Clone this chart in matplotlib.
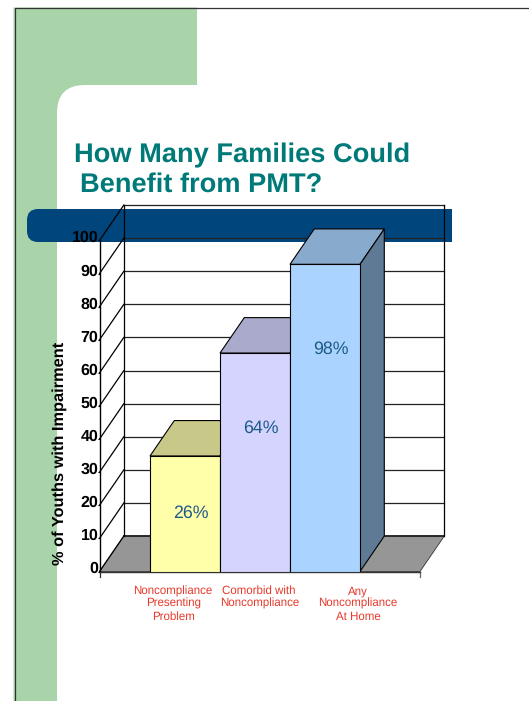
import matplotlib
matplotlib.use("Agg")
import matplotlib.pyplot as plt
from matplotlib.patches import PathPatch, Polygon
from matplotlib.path import Path
from matplotlib.transforms import ScaledTranslation

plt.rcParams['font.family'] = ['Liberation Sans', 'DejaVu Sans']
plt.rcParams['text.hinting'] = 'no_hinting'

# Data
categories = ["Noncompliance\nPresenting\nProblem", "Comorbid with\nNoncompliance", "Any\nNoncompliance\nAt Home"]
bar_heights = [34.9, 66.0, 92.8]
bar_labels = ["26%", "64%", "98%"]
y_ticks = [0, 10, 20, 30, 40, 50, 60, 70, 80, 90, 100]

face_colors = ["#FFFFAA", "#D4D4FF", "#AAD4FF"]
top_colors = ["#C8C888", "#AAAACC", "#88AACC"]
side_colors = ["#A0A070", "#8888AA", "#5F7A95"]

W, H = 529, 701
fig = plt.figure(figsize=(W/100, H/100), dpi=100, facecolor="white")

# Slide background, in pixel coordinates
bg = fig.add_axes([0, 0, 1, 1])
bg.set_xlim(0, W)
bg.set_ylim(H, 0)
bg.axis("off")

green = "#A9D4AA"
verts = [(13.5, 7.5), (197, 7.5), (197, 85), (85, 85), (57, 85), (57, 113), (57, 701), (13.5, 701), (13.5, 7.5)]
codes = [Path.MOVETO, Path.LINETO, Path.LINETO, Path.LINETO, Path.CURVE3, Path.CURVE3,
         Path.LINETO, Path.LINETO, Path.CLOSEPOLY]
bg.add_patch(PathPatch(Path(verts, codes), fc=green, ec="none"))

navy = "#00467C"
verts = [(452, 209), (38, 209), (27, 209), (27, 220), (27, 231), (27, 242), (38, 242), (452, 242), (452, 209)]
codes = [Path.MOVETO, Path.LINETO, Path.CURVE3, Path.CURVE3, Path.LINETO, Path.CURVE3, Path.CURVE3,
         Path.LINETO, Path.CLOSEPOLY]
bg.add_patch(PathPatch(Path(verts, codes), fc=navy, ec="none"))

bg.plot([14.5, 14.5, 529], [701, 7.8, 7.8], color="#333333", lw=0.9)

bg.text(74, 155, "How Many Families Could", color="#007A78", fontsize=19.6, fontweight="bold", va="center")
bg.text(80, 184.5, "Benefit from PMT?", color="#007A78", fontsize=19.6, fontweight="bold", va="center")
bg.text(60, 453.5, "% of Youths with Impairment", rotation=90, fontsize=11.8, fontweight="bold",
        ha="center", va="center")

# Chart axes: front plane of the 3D box, one x unit is one bar wide
px_unit = 70.0
ax = fig.add_axes([99.5/W, 1-571.5/H, 320.5/W, 331/H])
ax.patch.set_alpha(0)
ax.set_xlim(-85.5/px_unit, 235/px_unit)
ax.set_ylim(0, 100)
x0, x1 = ax.get_xlim()
dx = 24.3/px_unit   # depth offset
dy = 10.7

for s in ["top", "right"]:
    ax.spines[s].set_visible(False)
ax.spines["left"].set_linewidth(1.0)
ax.spines["bottom"].set_linewidth(1.0)
ax.spines["bottom"].set_color("#333333")

# floor and walls
ax.add_patch(Polygon([(x0, 0), (x0+dx, dy), (x1+dx, dy), (x1, 0)], fc="#969696", ec="#333333", lw=0.6,
                     clip_on=False, zorder=1))
for v in y_ticks:
    lw = 1.3 if v == 0 else 0.9
    ax.plot([x0+dx, x1+dx], [v+dy, v+dy], color="#222222", lw=lw, clip_on=False, zorder=1.2)
    ax.plot([x0, x0+dx], [v, v+dy], color="black", lw=0.9, clip_on=False, zorder=1.2)
ax.plot([x0+dx, x0+dx], [dy, 100+dy], color="black", lw=0.9, clip_on=False, zorder=1.2)
ax.plot([x1+dx, x1+dx], [dy, 100+dy], color="black", lw=0.9, clip_on=False, zorder=1.2)
ax.plot([x0, x0], [0, -1.7], color="#333333", lw=0.9, clip_on=False)
ax.plot([x1, x1], [0, -1.7], color="#666666", lw=0.9, clip_on=False)

# bars
xs = list(range(len(bar_heights)))
ax.bar(xs, bar_heights, width=1.0, color=face_colors, edgecolor="black", linewidth=0.8, zorder=3)
for x, h, tc, sc in zip(xs, bar_heights, top_colors, side_colors):
    l, r = x-0.5, x+0.5
    ax.add_patch(Polygon([(l, h), (l+dx, h+dy), (r+dx, h+dy), (r, h)], fc=tc, ec="black", lw=0.8,
                         clip_on=False, zorder=2.5))
    ax.add_patch(Polygon([(r, 0), (r+dx, dy), (r+dx, h+dy), (r, h)], fc=sc, ec="black", lw=0.8,
                         clip_on=False, zorder=2.5))

# value labels sit a little right of the bar centres
label_y = [17.7, 43.4, 67.3]
for x, y, s in zip(xs, label_y, bar_labels):
    ax.text(x+0.08, y, s, color="#1F5A8A", fontsize=12.8, ha="center", va="center", zorder=4)

# axis labels
ax.set_yticks(y_ticks)
ax.tick_params(axis="y", length=1.5, width=0.8, pad=0, labelsize=11.5)
offset = ScaledTranslation(1/100, 4/100, fig.dpi_scale_trans)
for lab in ax.get_yticklabels():
    lab.set_fontweight("bold")
    lab.set_transform(lab.get_transform() + offset)

ax.set_xticks([-0.17, 1.06, 2.47], categories)
ax.tick_params(axis="x", length=0, pad=10, labelsize=8.3, labelcolor="#E8392B")
for lab in ax.get_xticklabels():
    lab.set_linespacing(1.17)

fig.savefig("out.png", dpi=100)
